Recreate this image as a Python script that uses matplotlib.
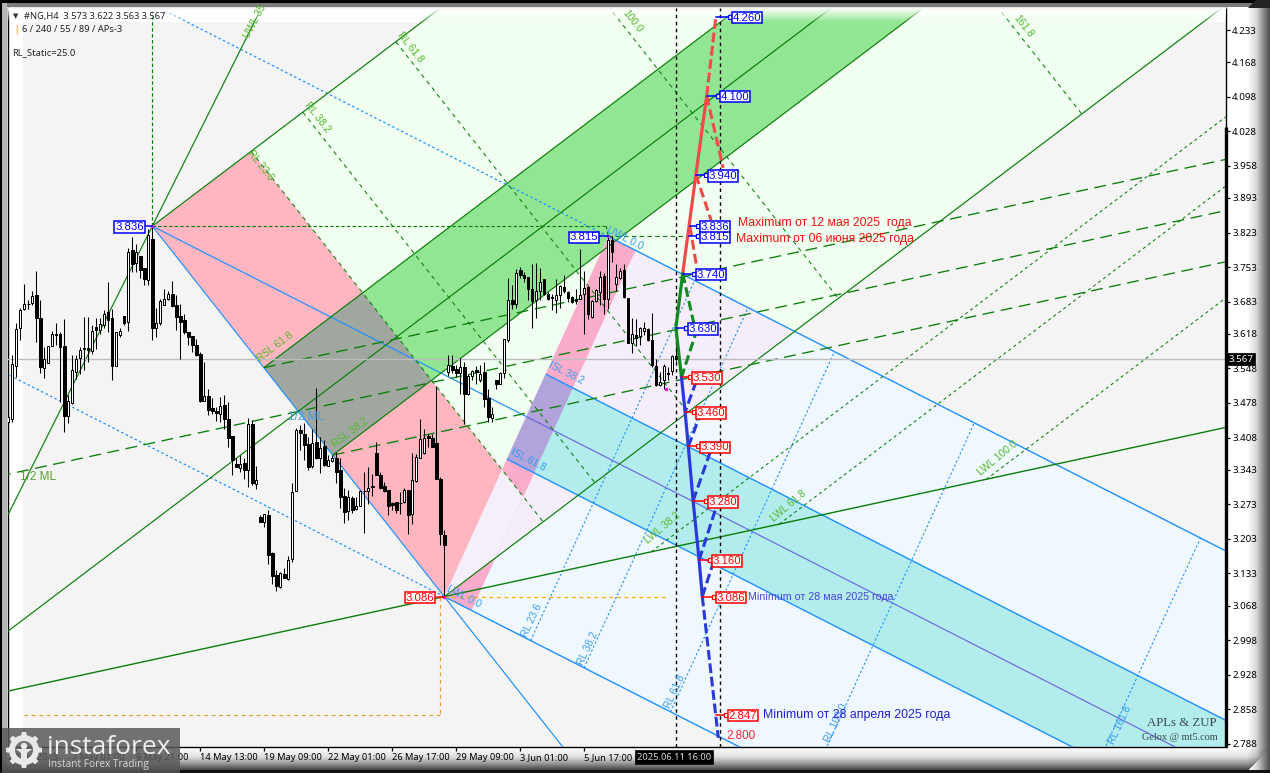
"""#NG H4 chart with pitchfork / fibo fan levels and forecast zigzag."""
import matplotlib
matplotlib.use("Agg")
import matplotlib.pyplot as plt
import numpy as np
from matplotlib.patches import Circle, Polygon, Rectangle, Wedge

OPEN = [
    3.440, 3.446, 3.553, 3.629, 3.668, 3.679, 3.681, 3.696, 3.650, 3.549,
    3.559, 3.593, 3.618, 3.617, 3.593, 3.452, 3.477, 3.541, 3.570, 3.589,
    3.590, 3.583, 3.631, 3.625, 3.635, 3.662, 3.649, 3.553, 3.615, 3.654,
    3.642, 3.787, 3.762, 3.775, 3.751, 3.726, 3.810, 3.630, 3.640, 3.676,
    3.689, 3.699, 3.676, 3.654, 3.646, 3.621, 3.614, 3.596, 3.578, 3.483,
    3.492, 3.467, 3.461, 3.456, 3.473, 3.445, 3.411, 3.355, 3.347, 3.357,
    3.343, 3.435, 3.314, 3.247, 3.237, 3.251, 3.175, 3.129, 3.106, 3.131,
    3.121, 3.163, 3.300, 3.423, 3.415, 3.395, 3.350, 3.399, 3.366, 3.391,
    3.351, 3.361, 3.366, 3.342, 3.289, 3.260, 3.286, 3.264, 3.270, 3.300,
    3.299, 3.310, 3.376, 3.332, 3.310, 3.301, 3.275, 3.277, 3.276, 3.277,
    3.301, 3.253, 3.320, 3.367, 3.376, 3.411, 3.408, 3.396, 3.325, 3.210,
    3.541, 3.553, 3.546, 3.538, 3.550, 3.497, 3.532, 3.544, 3.525, 3.540,
    3.489, 3.448, 3.524, 3.517, 3.538, 3.606, 3.686, 3.679, 3.748, 3.737,
    3.732, 3.708, 3.686, 3.704, 3.728, 3.698, 3.693, 3.687, 3.696, 3.713,
    3.703, 3.693, 3.689, 3.689, 3.698, 3.712, 3.652, 3.685, 3.703, 3.735,
    3.689, 3.807, 3.718, 3.730, 3.747, 3.691, 3.600, 3.616, 3.613, 3.624,
    3.627, 3.606, 3.552, 3.514, 3.524, 3.539, 3.543, 3.573,
]
HIGH = [
    3.453, 3.576, 3.639, 3.671, 3.718, 3.686, 3.704, 3.745, 3.686, 3.591,
    3.594, 3.623, 3.639, 3.622, 3.647, 3.494, 3.576, 3.576, 3.591, 3.652,
    3.652, 3.635, 3.649, 3.649, 3.666, 3.722, 3.669, 3.622, 3.629, 3.654,
    3.791, 3.813, 3.799, 3.775, 3.751, 3.831, 3.838, 3.671, 3.689, 3.708,
    3.704, 3.725, 3.696, 3.679, 3.659, 3.621, 3.614, 3.608, 3.581, 3.561,
    3.507, 3.489, 3.470, 3.490, 3.494, 3.480, 3.411, 3.366, 3.372, 3.366,
    3.447, 3.443, 3.350, 3.251, 3.254, 3.261, 3.177, 3.139, 3.136, 3.143,
    3.168, 3.315, 3.428, 3.433, 3.437, 3.410, 3.426, 3.509, 3.410, 3.404,
    3.372, 3.372, 3.379, 3.366, 3.305, 3.301, 3.290, 3.288, 3.301, 3.339,
    3.349, 3.335, 3.399, 3.339, 3.318, 3.301, 3.278, 3.277, 3.298, 3.305,
    3.301, 3.376, 3.374, 3.445, 3.426, 3.415, 3.416, 3.512, 3.329, 3.220,
    3.575, 3.575, 3.554, 3.570, 3.561, 3.536, 3.544, 3.552, 3.554, 3.561,
    3.507, 3.470, 3.525, 3.541, 3.608, 3.730, 3.716, 3.750, 3.753, 3.743,
    3.733, 3.760, 3.762, 3.752, 3.728, 3.703, 3.698, 3.728, 3.716, 3.738,
    3.705, 3.694, 3.708, 3.789, 3.745, 3.715, 3.686, 3.708, 3.745, 3.741,
    3.815, 3.815, 3.760, 3.752, 3.760, 3.691, 3.649, 3.647, 3.631, 3.642,
    3.629, 3.660, 3.568, 3.541, 3.556, 3.551, 3.575, 3.622,
]
LOW = [
    3.419, 3.440, 3.531, 3.605, 3.666, 3.669, 3.676, 3.602, 3.539, 3.529,
    3.559, 3.593, 3.595, 3.480, 3.419, 3.438, 3.475, 3.527, 3.537, 3.544,
    3.561, 3.577, 3.588, 3.617, 3.629, 3.622, 3.525, 3.553, 3.612, 3.635,
    3.624, 3.743, 3.743, 3.730, 3.716, 3.716, 3.606, 3.612, 3.635, 3.676,
    3.686, 3.672, 3.625, 3.568, 3.618, 3.595, 3.581, 3.573, 3.480, 3.483,
    3.453, 3.456, 3.442, 3.440, 3.426, 3.389, 3.332, 3.349, 3.339, 3.325,
    3.307, 3.312, 3.303, 3.237, 3.227, 3.153, 3.112, 3.098, 3.104, 3.123,
    3.119, 3.156, 3.300, 3.382, 3.362, 3.343, 3.347, 3.364, 3.337, 3.350,
    3.351, 3.359, 3.315, 3.266, 3.235, 3.241, 3.256, 3.262, 3.269, 3.215,
    3.273, 3.289, 3.332, 3.303, 3.298, 3.251, 3.261, 3.256, 3.253, 3.275,
    3.212, 3.233, 3.318, 3.367, 3.374, 3.388, 3.388, 3.325, 3.190, 3.086,
    3.532, 3.539, 3.531, 3.497, 3.436, 3.494, 3.524, 3.517, 3.521, 3.470,
    3.440, 3.440, 3.507, 3.517, 3.529, 3.602, 3.669, 3.671, 3.730, 3.723,
    3.686, 3.629, 3.651, 3.686, 3.696, 3.687, 3.666, 3.660, 3.671, 3.701,
    3.683, 3.681, 3.679, 3.689, 3.617, 3.647, 3.651, 3.683, 3.676, 3.659,
    3.669, 3.764, 3.705, 3.728, 3.691, 3.600, 3.579, 3.593, 3.595, 3.615,
    3.604, 3.551, 3.512, 3.512, 3.507, 3.525, 3.534, 3.563,
]
CLOSE = [
    3.450, 3.556, 3.627, 3.666, 3.679, 3.678, 3.694, 3.650, 3.551, 3.566,
    3.594, 3.618, 3.616, 3.591, 3.452, 3.482, 3.544, 3.568, 3.586, 3.587,
    3.585, 3.623, 3.625, 3.637, 3.659, 3.645, 3.553, 3.621, 3.623, 3.639,
    3.784, 3.760, 3.784, 3.748, 3.728, 3.818, 3.629, 3.639, 3.684, 3.689,
    3.699, 3.674, 3.652, 3.642, 3.622, 3.612, 3.596, 3.576, 3.483, 3.492,
    3.463, 3.461, 3.458, 3.471, 3.446, 3.408, 3.362, 3.349, 3.355, 3.342,
    3.435, 3.316, 3.322, 3.237, 3.253, 3.170, 3.127, 3.107, 3.134, 3.124,
    3.161, 3.298, 3.423, 3.418, 3.393, 3.349, 3.397, 3.366, 3.386, 3.352,
    3.362, 3.367, 3.339, 3.288, 3.258, 3.287, 3.262, 3.269, 3.300, 3.299,
    3.305, 3.307, 3.332, 3.305, 3.300, 3.270, 3.271, 3.262, 3.275, 3.301,
    3.252, 3.322, 3.368, 3.405, 3.408, 3.408, 3.389, 3.325, 3.212, 3.191,
    3.554, 3.544, 3.539, 3.550, 3.497, 3.532, 3.543, 3.541, 3.537, 3.487,
    3.450, 3.456, 3.516, 3.539, 3.607, 3.686, 3.678, 3.742, 3.737, 3.731,
    3.708, 3.684, 3.704, 3.722, 3.698, 3.689, 3.691, 3.696, 3.714, 3.704,
    3.691, 3.683, 3.684, 3.696, 3.710, 3.658, 3.685, 3.706, 3.732, 3.689,
    3.807, 3.784, 3.732, 3.745, 3.693, 3.600, 3.618, 3.610, 3.629, 3.630,
    3.605, 3.554, 3.514, 3.521, 3.553, 3.536, 3.573, 3.567,
]

Y_TICKS = [4.233, 4.168, 4.098, 4.028, 3.958, 3.893, 3.823, 3.753, 3.683, 3.618, 3.548,
           3.478, 3.408, 3.343, 3.273, 3.203, 3.133, 3.068, 2.998, 2.928, 2.858, 2.788]
X_TICKS = [0, 16, 32, 48, 64, 80, 96, 112, 128, 144]
X_LABELS = ["2 May 2025", "7 May 01:00", "9 May 21:00", "14 May 13:00", "19 May 09:00",
            "22 May 01:00", "26 May 17:00", "29 May 09:00", "3 Jun 01:00", "5 Jun 17:00"]
LAST_PRICE = 3.567

# pivots (bar, price)
PIVOT_A = (36, 3.836)
PIVOT_B = (109, 3.086)
PIVOT_C = (150, 3.815)
FIB = [0.236, 0.382, 0.5, 0.618, 1.0, 1.618]
FAN_SLOPE = 0.00613
ML_SLOPE = 0.001753
STEEP_SLOPE = 0.0162

# forecast path: bar, price
RED_PATH_BARS = [168.6, 171.9, 174.6]
RED_PATH_PRICES = [3.74, 3.94, 4.10]
RED_TAIL_BARS = [174.6, 176.9]
RED_TAIL_PRICES = [4.10, 4.26]
RED_BRANCH = [((174.6, 4.10), (178.7, 3.954)), ((171.9, 3.94), (175.7, 3.848)),
              ((170.4, 3.836), (172.1, 3.753))]
GREEN_PATH_BARS = [168.6, 166.9, 168.3]
GREEN_PATH_PRICES = [3.74, 3.63, 3.53]
GREEN_BRANCH_BARS = [168.6, 171.9, 168.3]
GREEN_BRANCH_PRICES = [3.74, 3.62, 3.53]
BLUE_PATH_BARS = [168.3, 169.2, 170.0, 171.2, 172.7, 173.5]
BLUE_PATH_PRICES = [3.53, 3.46, 3.39, 3.28, 3.16, 3.086]
BLUE_TAIL_BARS = [173.5, 177.5]
BLUE_TAIL_PRICES = [3.086, 2.80]
BLUE_BRANCH = [((172.0, 3.522), (169.2, 3.46)), ((170.0, 3.39), (172.7, 3.448)),
               ((171.2, 3.28), (175.4, 3.377)), ((172.7, 3.16), (176.9, 3.265)),
               ((173.5, 3.086), (176.2, 3.154))]

# level tags: price, bar of the connector start, bar of the tag
BLUE_TAGS = [(4.260, 176.9, 180.7), (4.100, 174.6, 177.7), (3.940, 171.9, 174.7),
             (3.836, 170.4, 172.7), (3.815, 170.2, 172.7), (3.740, 168.6, 171.7),
             (3.630, 166.9, 169.7), (3.836, 36.0, 26.4), (3.815, 150.0, 140.0)]
RED_TAGS = [(3.530, 168.3, 170.7), (3.460, 169.2, 171.7), (3.390, 170.0, 172.7),
            (3.280, 171.2, 174.7), (3.160, 172.7, 175.7), (3.086, 173.5, 176.7),
            (2.847, 176.9, 179.7), (3.086, 109.0, 99.1)]

FW, FH = 1270, 773
AX_L, AX_R, AX_T, AX_B = 8, 1226, 8, 747
PX_PER_UNIT = 494.0
BLUE_LINE = "#1e90ff"
DARK_GREEN = "#0a7d0a"
TEXT_FONT = "Liberation Sans"


def at(x, y):
    """Picture position of a text -> bar, price."""
    return (x - 8.3) / 4.0, 4.233 - (y - 30) / PX_PER_UNIT


def cross(p, u, q, v):
    s = np.linalg.solve(np.array([u, -v]).T, q - p)
    return p + s[0] * u


plt.rcParams["font.family"] = ["Noto Sans", "DejaVu Sans"]
fig = plt.figure(figsize=(FW / 100, FH / 100), dpi=100, facecolor="white")

# window frame
bg = fig.add_axes([0, 0, 1, 1], zorder=0)
bg.add_patch(Rectangle((0, 0), 1270, 3, fc="#000000", zorder=2))
bg.add_patch(Rectangle((0, 3), 1270, 4, fc="#7a7a7a", zorder=2))
bg.add_patch(Rectangle((0, 0), 2, 773, fc="#000000", zorder=2))
bg.add_patch(Rectangle((2, 3), 5, 770, fc="#b5b5b5", zorder=2))
bg.set_xlim(0, FW)
bg.set_ylim(FH, 0)
bg.axis("off")

ax = fig.add_axes([AX_L / FW, (FH - AX_B) / FH, (AX_R - AX_L) / FW, (AX_B - AX_T) / FH], zorder=1)
ax.set_facecolor("white")
xlim = ((AX_L - 8.3) / 4, (AX_R - 8.3) / 4)
ylim = (4.233 - (AX_B - 30) / PX_PER_UNIT, 4.233 - (AX_T - 30) / PX_PER_UNIT)
top_grey = 4.233 - (22 - 30) / PX_PER_UNIT
ax.add_patch(Rectangle((at(23, 0)[0], ylim[0]), xlim[1], top_grey - ylim[0], fc="#f4f4f4", zorder=0))

A, B, C = map(np.array, (PIVOT_A, PIVOT_B, PIVOT_C))
A, B, C = A.astype(float), B.astype(float), C.astype(float)
AB, CB = B - A, B - C
mid = (B + C) / 2
M = (mid - A) / (mid - A)[0]
D = np.array([1.0, FAN_SLOPE])
ML = np.array([1.0, ML_SLOPE])
STEEP = np.array([1.0, STEEP_SLOPE])
FAR = 420.0
G = A + D * 24.7            # 23.6 retracement corner
W = 6.8                     # width of the pink stripe, bars
Q1, Q2 = A + 0.382 * AB, A + 0.618 * AB
HALF = A + 0.5 * AB
c1, c2 = C + 0.382 * CB, C + 0.618 * CB
sC, sB = C + M * W, B + M * W


def fill(pts, color, z=1):
    ax.add_patch(Polygon(np.array(pts), closed=True, fc=color, ec="none", zorder=z))


def seg(p, q, color=DARK_GREEN, lw=0.85, dash=None, z=3):
    line, = ax.plot([p[0], q[0]], [p[1], q[1]], color=color, lw=lw, zorder=z, solid_capstyle="butt")
    if dash:
        line.set_dashes(dash)
    return line


# filled zones, each overlap as its own polygon
fill([G, G + D * FAR, G + AB + D * FAR, G + AB], "#f0fff0", 1)
fill([A, G, G + AB, B], "#ffb6c1", 1.1)
fill([Q1, Q1 + D * FAR, Q2 + D * FAR, Q2], "#92e592", 1.2)
fill([Q1, Q1 + D * 24.7, Q2 + D * 24.7, Q2], "#9fa79f", 1.3)
fill([C, C + M * FAR, B + M * FAR, B], "#f0f8ff", 1.4)
fill([C, cross(C, M, B, D), B], "#f5eefa", 1.5)
fill([C, sC, sB, B], "#fbacca", 1.6)
fill([cross(C, CB, G, AB), cross(sC, CB, G, AB), cross(sC, CB, B, D), B], "#f4eff9", 1.7)
fill([c1, c1 + M * FAR, c2 + M * FAR, c2], "#b2ecec", 1.8)
fill([c1, c1 + M * W, c2 + M * W, c2], "#b3a3db", 1.9)

# pitchfork, blue family
seg(A, B + AB * 0.45, BLUE_LINE)
seg(C, C + M * FAR, BLUE_LINE, 1.0)
seg(C, C - M * 200, BLUE_LINE, 0.9, (2, 2))
seg(B, B + M * FAR, BLUE_LINE, 1.0)
seg(B, B - M * 120, BLUE_LINE, 0.9, (2, 2))
seg(A, mid, BLUE_LINE)
seg(mid, A + M * FAR, "#6a6ae0")
seg(c1, c1 + M * FAR, BLUE_LINE, 1.0)
seg(c2, c2 + M * FAR, BLUE_LINE, 1.0)
for lev in FIB:
    if lev != 0.5:
        seg(B + M * 91.5 * lev, C + M * 91.5 * lev, BLUE_LINE, 0.8, (2, 2))

# fan, green family
seg(A - STEEP * 36.0, STEEP * 40 + A)
seg(A, A + D * FAR)
seg(Q1, Q1 + D * FAR)
seg(Q2, Q2 + D * FAR)
seg(HALF - D * 80, HALF + D * FAR)
seg(B, B + D * FAR)
seg(B - ML * 120, B + ML * FAR, "#0a7d0a", 1.0)
seg(HALF - ML * 80, HALF + ML * FAR, DARK_GREEN, 0.95, (9, 5))
seg(Q1, Q1 + ML * FAR, DARK_GREEN, 0.95, (9, 5))
seg(Q2, Q2 + ML * FAR, DARK_GREEN, 0.95, (9, 5))
for lev in (0.382, 0.618, 1.0):
    start = B + ML * 135.5 * lev
    seg(start, start + D * FAR, DARK_GREEN, 0.75, (3, 3))
seg(G, G + AB, DARK_GREEN, 0.75, (4, 4))
for lev in (0.382, 0.618, 1.0, 1.618):
    base = A + D * 98.5 * lev
    seg(base, cross(base, AB, B, D), DARK_GREEN, 0.75, (4, 4))

# pivots guides
seg(A, (A[0], ylim[1]), DARK_GREEN, 0.85, (3, 2))
seg(A, (149.5, A[1]), DARK_GREEN, 0.8, (3, 2))
seg((149.5, A[1]), C, DARK_GREEN, 0.8, (3, 2))
seg(C, (170.0, C[1]), DARK_GREEN, 0.8, (4, 3))
seg(B, (165.0, B[1]), "#ffa500", 0.9, (3, 3))
seg((107.9, B[1]), (107.9, 2.847), "#e8a030", 0.9, (3, 3))
seg((107.9, 2.847), (4.0, 2.847), "#e8a030", 0.9, (3, 3))

ax.axhline(LAST_PRICE, color="#bdbdbd", lw=1.0, zorder=3.5)
for bar in (167, 178):
    seg((bar, ylim[0]), (bar, ylim[1]), "black", 1.0, (2.5, 2.5), z=5.5)

# candles
bars = np.arange(len(OPEN))
o, h, l, c = map(np.array, (OPEN, HIGH, LOW, CLOSE))
ax.vlines(bars, l, h, color="black", lw=0.75, zorder=5)
up = c >= o
ax.bar(bars[up], (c - o)[up], bottom=o[up], width=0.55, color="white", edgecolor="black", lw=0.72, zorder=5.2)
ax.bar(bars[~up], (o - c)[~up], bottom=c[~up], width=0.6, color="black", edgecolor="black", lw=0.72, zorder=5.2)
ax.plot([A[0], B[0], C[0], 164.5], [A[1], B[1], C[1], 3.507], ls="none", marker="s", ms=2, color="#e020e0", zorder=6)

# forecast zigzag
ZIG = dict(lw=2.3, zorder=6.5, solid_capstyle="round")
RED, GREEN, BLUE = "#f04a4a", "#128a22", "#2a3ad8"
ax.plot(RED_PATH_BARS, RED_PATH_PRICES, color=RED, **ZIG)
ax.plot(RED_TAIL_BARS, RED_TAIL_PRICES, color=RED, ls=(0, (3.2, 1.2)), lw=2.2, zorder=6.5)
for p, q in RED_BRANCH:
    seg(p, q, RED, 2.2, (3.2, 1.4), z=6.4)
ax.plot(GREEN_PATH_BARS, GREEN_PATH_PRICES, color=GREEN, **ZIG)
ax.plot(GREEN_BRANCH_BARS, GREEN_BRANCH_PRICES, color=GREEN, ls=(0, (3.2, 1.4)), lw=2.2, zorder=6.4)
ax.plot(BLUE_PATH_BARS, BLUE_PATH_PRICES, color=BLUE, **ZIG)
ax.plot(BLUE_TAIL_BARS, BLUE_TAIL_PRICES, color=BLUE, ls=(0, (3.2, 1.2)), lw=2.2, zorder=6.5)
for p, q in BLUE_BRANCH:
    seg(p, q, BLUE, 2.2, (3.2, 1.4), z=6.4)


def tags(rows, color):
    for price, start, tag in rows:
        end = tag - 0.25 if tag > start else tag + 8.0
        ax.plot([start, end], [price, price], color=color, lw=1.1, zorder=7)
        if tag > start:
            ax.plot([end], [price], ls="none", marker="s", ms=3, mfc="white", mec=color, mew=0.9, zorder=7.1)
        ax.text(tag + 0.3, price, f"{price:.3f}", color=color, fontsize=8.2, family=TEXT_FONT,
                ha="left", va="center_baseline", zorder=8,
                bbox=dict(boxstyle="square,pad=0.07", fc="white", ec=color, lw=1.1))


tags(BLUE_TAGS, "#0000ff")
tags(RED_TAGS, "#ff0000")

# texts sitting on the chart
ax.text(*at(726, 736), "2.800", color="#ff2030", fontsize=8.4, family=TEXT_FONT, va="center", zorder=8)
ax.text(*at(738, 223), "Maximum от 12 мая 2025  года", color="#ee1010", fontsize=8.8, family=TEXT_FONT, va="center", zorder=8)
ax.text(*at(736, 239), "Maximum от 06 июня 2025 года", color="#ee1010", fontsize=8.8, family=TEXT_FONT, va="center", zorder=8)
ax.text(*at(748, 597), "Minimum от 28 мая 2025 года", color="#4646d8", fontsize=7.7, family=TEXT_FONT, va="center", zorder=8)
ax.text(*at(763, 715), "Minimum от 28 апреля 2025 года", color="#2020d0", fontsize=8.9, family=TEXT_FONT, va="center", zorder=8)
ax.text(*at(1147, 723), "APLs & ZUP", color="#3c4a4a", fontsize=9.2, family="Liberation Serif", va="center", zorder=8)
ax.text(*at(1142, 737), "Gelox @ mt5.com", color="#3c4a4a", fontsize=7.4, family="Liberation Serif", va="center", zorder=8)
ax.text(*at(20, 477), "1/2 ML", color="#55a030", fontsize=8.5, family=TEXT_FONT, va="center", zorder=8)
ax.text(*at(288, 417), "1/2 ML", color="#4a9ae8", fontsize=8.5, family=TEXT_FONT, va="center", zorder=8)

GREEN_TXT, BLUE_TXT = "#55b82c", "#3a9cf0"
ROT = [("UWL 35", 255, 21, 62, GREEN_TXT), ("RL 23.6", 260, 165, -52, GREEN_TXT),
       ("RL 38.2", 317, 117, -52, GREEN_TXT), ("RL 61.8", 410, 47, -52, GREEN_TXT),
       ("100.0", 633, 21, -52, GREEN_TXT), ("161.8", 1023, 26, -52, GREEN_TXT),
       ("RSL 61.8", 275, 347, 37, GREEN_TXT), ("RSL 38.2", 350, 433, 37, GREEN_TXT),
       ("LWL 38.2", 662, 528, 40, GREEN_TXT), ("LWL 61.8", 788, 506, 40, GREEN_TXT),
       ("LWL 100.0", 998, 458, 40, GREEN_TXT),
       ("UWL 0.0", 625, 238, -27, BLUE_TXT), ("ISL 38.2", 566, 373, -27, BLUE_TXT),
       ("ISL 61.8", 528, 460, -27, BLUE_TXT), ("LWL 0.0", 464, 597, -27, BLUE_TXT),
       ("RL 23.6", 532, 621, 65, BLUE_TXT), ("RL 38.2", 588, 649, 65, BLUE_TXT),
       ("RL 61.8", 675, 692, 65, BLUE_TXT), ("RL 100.0", 836, 723, 65, BLUE_TXT),
       ("RL 161.8", 1120, 725, 65, BLUE_TXT)]
for txt, x, y, rot, col in ROT:
    ax.text(*at(x, y), txt, color=col, fontsize=7.4, rotation=rot, ha="center", va="center",
            rotation_mode="anchor", family=TEXT_FONT, zorder=7)

# chart header
ax.text(*at(12.5, 16), "▼", fontsize=5, color="#333333", va="center", zorder=8, family="DejaVu Sans")
ax.text(*at(24, 16), "#NG,H4  3.573 3.622 3.563 3.567", fontsize=6.7, color="#222222", va="center", zorder=8)
ax.text(*at(22, 29), "6 / 240 / 55 / 89 / APs-3", fontsize=6.7, color="#222222", va="center", zorder=8)
ax.plot(*zip(at(16.5, 25), at(16.5, 33)), color="#f0c060", lw=1.0, zorder=8)
ax.text(*at(12, 53), "RL_Static=25.0", fontsize=6.8, color="#222222", va="center", zorder=8)

# axes
ax.set_xlim(*xlim)
ax.set_ylim(*ylim)

# white fade across the top of the window, strips in the same price scale
fade_y = np.linspace(top_grey, ylim[1], 15)
for lo, hi, alpha in zip(fade_y[:-1], fade_y[1:], np.linspace(0.05, 0.95, 14)):
    ax.add_patch(Rectangle((xlim[0], lo), xlim[1] - xlim[0], hi - lo, fc="white", ec="none", alpha=alpha, zorder=4))

ax.yaxis.tick_right()
ax.set_yticks(Y_TICKS)
ax.set_yticklabels([f"{v:.3f}" for v in Y_TICKS], fontsize=7.0, color="black")
ax.tick_params(axis="y", length=3, width=0.9, pad=1.5, right=True)
ax.set_xticks(X_TICKS)
ax.set_xticklabels(X_LABELS, fontsize=6.7, color="black", ha="left")
ax.tick_params(axis="x", length=3, width=0.9, pad=1.5)
for side, spine in ax.spines.items():
    spine.set_color("#777777" if side in ("top", "left") else "black")
    spine.set_linewidth(1.0)
ax.spines["left"].set_color("black")
ax.plot([1, 1], [0, 1 - (127 - AX_T) / (AX_B - AX_T)], transform=ax.transAxes, color="black", lw=2.4,
        clip_on=False, zorder=9, solid_capstyle="butt")
ax.text(1.0018, LAST_PRICE, f"{LAST_PRICE:.3f}", transform=ax.get_yaxis_transform(), fontsize=7.0,
        color="white", va="center", ha="left", zorder=9, clip_on=False,
        bbox=dict(boxstyle="square,pad=0.2", fc="black", ec="black", lw=0.5))
ax.text(157.2, -10 / (AX_B - AX_T), "2025.06.11 16:00", transform=ax.get_xaxis_transform(), fontsize=6.7,
        color="white", va="center", ha="left", zorder=9, clip_on=False,
        bbox=dict(boxstyle="square,pad=0.22", fc="black", ec="black", lw=0.5))

# top layer: window bevel as see-through dark strips, then the instaforex badge
logo = fig.add_axes([0, 0, 1, 1], zorder=5)
logo.set_xlim(0, FW)
logo.set_ylim(FH, 0)
logo.axis("off")
logo.patch.set_alpha(0)
for x in range(1248, 1270):
    g = np.interp(x, [1248, 1256, 1263, 1270], [250, 215, 140, 70]) / 255
    logo.add_patch(Rectangle((x, 0), 1, FH, fc="black", ec="none", alpha=1 - g, zorder=0.5))
for y in range(749, 770):
    g = np.interp(y, [749, 756, 763, 770], [248, 225, 150, 60]) / 255
    logo.add_patch(Rectangle((0, y), 1248 + (770 - y), 1, fc="black", ec="none", alpha=1 - g, zorder=0.5))
logo.add_patch(Polygon([(1248, 8), (1270, 8), (1270, 0), (1256, 0)], fc="#222222", ec="none", zorder=0.6))
logo.add_patch(Rectangle((0, 770), 1270, 3, fc="#111111", ec="none", zorder=0.6))
logo.add_patch(Rectangle((2, 728), 178, 45, fc="#585858", alpha=0.84, ec="none"))
cx, cy = 24.0, 750.0
logo.add_patch(Wedge((cx, cy), 15.0, 0, 360, width=6.0, fc="#e8e8e8", ec="none"))
for ang in np.arange(0, 360, 45):
    t = np.radians(ang)
    u = np.array([np.cos(t), np.sin(t)])
    v = np.array([-u[1], u[0]])
    ctr = np.array([cx, cy])
    logo.add_patch(Polygon([ctr + u * 13 + v * 3, ctr + u * 18 + v * 2.2, ctr + u * 18 - v * 2.2, ctr + u * 13 - v * 3],
                           fc="#e8e8e8", ec="none"))
logo.add_patch(Circle((cx, cy - 4), 3.2, fc="#e8e8e8", ec="none"))
logo.add_patch(Polygon([(cx - 8, cy - 1), (cx + 8, cy - 1), (cx + 3, cy + 3), (cx + 3, cy + 15), (cx - 3, cy + 15), (cx - 3, cy + 3)],
                       fc="#e8e8e8", ec="none"))
logo.text(47, 747.5, "instaforex", color="#eeeeee", fontsize=19, family="Open Sans", va="center", ha="left")
logo.text(48, 764, "Instant Forex Trading", color="#d8d8d8", fontsize=7.3, family="Open Sans", va="center", ha="left")

fig.savefig("out.png", dpi=100)
